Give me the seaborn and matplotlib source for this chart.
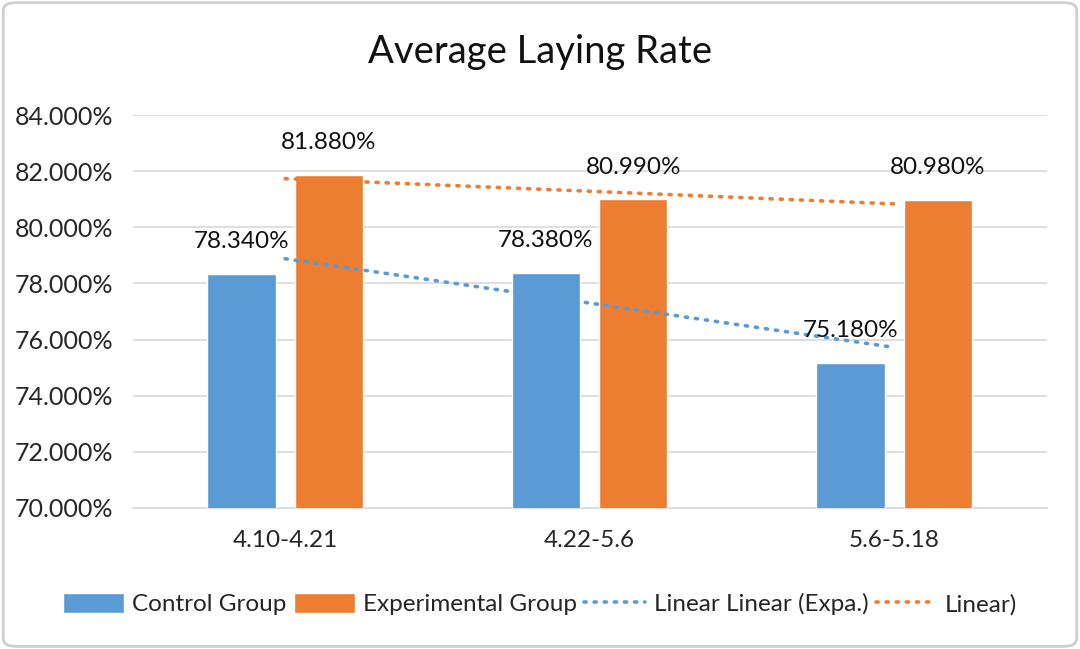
import numpy as np
import pandas as pd
import matplotlib
matplotlib.use("Agg")
import matplotlib.pyplot as plt
import seaborn as sns
from matplotlib.patches import Patch, FancyBboxPatch
from matplotlib.lines import Line2D

categories = ["4.10-4.21", "4.22-5.6", "5.6-5.18"]
control = [78.34, 78.38, 75.18]
experimental = [81.88, 80.99, 80.98]
series_names = ["Control Group", "Experimental Group"]
legend_labels = ["Control Group", "Experimental Group", "Linear Linear (Expa.)", "Linear)"]
title = "Average Laying Rate"

blue = "#5B9BD5"
orange = "#ED7D31"

sns.set_theme(style="white")
plt.rcParams["font.family"] = ["Lato", "DejaVu Sans"]

df = pd.DataFrame({
    "period": categories * 2,
    "rate": control + experimental,
    "group": [series_names[0]] * 3 + [series_names[1]] * 3,
})

fig = plt.figure(figsize=(10.8, 6.49), dpi=100)
ax = fig.add_axes([0.123, 0.2173, 0.846, 0.6055])

sns.barplot(data=df, x="period", y="rate", hue="group", order=categories,
            hue_order=series_names, palette=[blue, orange], width=0.574, gap=0.22,
            saturation=1, legend=False, ax=ax, zorder=3)

ax.set_ylim(70, 84)
ax.set_yticks(np.arange(70, 84.1, 2))
ax.set_yticklabels([f"{v:.3f}%" for v in np.arange(70, 84.1, 2)], fontsize=18)
ax.tick_params(axis="x", labelsize=17.5, pad=16, length=0)
ax.tick_params(axis="y", length=0, pad=14)
ax.set_xlabel("")
ax.set_ylabel("")
ax.set_xlim(-0.5, 2.5)
ax.grid(axis="y", color="#D9D9D9", linewidth=1.2, zorder=0)
for s in ["top", "right", "left"]:
    ax.spines[s].set_visible(False)
ax.spines["bottom"].set_color("#D9D9D9")
ax.spines["bottom"].set_linewidth(1.2)

# value labels
for cont in ax.containers:
    for bar in cont:
        v = bar.get_height()
        ax.annotate(f"{v:.3f}%", (bar.get_x() + bar.get_width() / 2, v),
                    xytext=(0, 23), textcoords="offset points",
                    ha="center", va="center", fontsize=17.5, color="#111111", zorder=5)

# linear trendlines
xs = np.arange(len(categories))
ls = (0, (0.6, 2.2))
for vals, col in [(control, blue), (experimental, orange)]:
    k, b = np.polyfit(xs, vals, 1)
    ax.plot(xs[[0, -1]], k * xs[[0, -1]] + b, color=col, linewidth=2.6,
            linestyle=ls, dash_capstyle="round", zorder=4)

fig.text(0.5, 0.92, title, ha="center", va="center", fontsize=27.5, color="#111111")

handles = [Patch(facecolor=blue), Patch(facecolor=orange),
           Line2D([0], [0], color=blue, linewidth=2.6, linestyle=ls, dash_capstyle="round"),
           Line2D([0], [0], color=orange, linewidth=2.6, linestyle=ls, dash_capstyle="round")]
fig.legend(handles, legend_labels, loc="center", bbox_to_anchor=(0.5, 0.069), ncol=4,
           frameon=False, fontsize=17.5, handlelength=2.5, handleheight=0.9,
           handletextpad=0.35, columnspacing=0.3)

fig.patches.append(FancyBboxPatch((0.003, 0.004), 0.994, 0.992, boxstyle="round,pad=0,rounding_size=0.012",
                                  transform=fig.transFigure, facecolor="none",
                                  edgecolor="#CFCFCF", linewidth=2))

fig.savefig("out.png", dpi=100)
